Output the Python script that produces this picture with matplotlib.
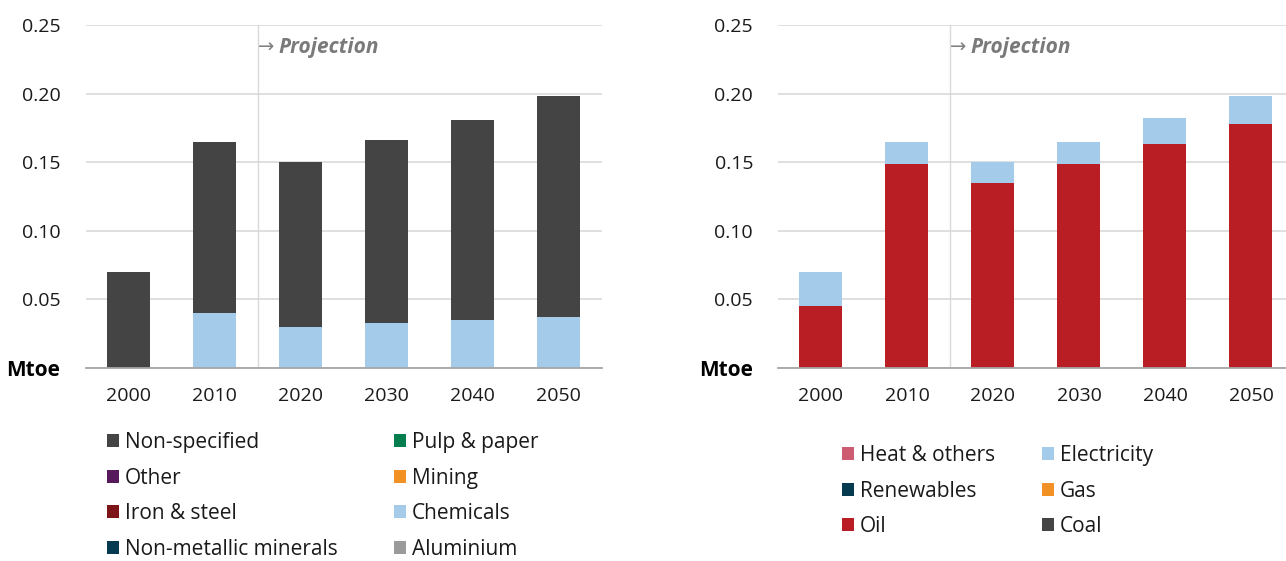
import numpy as np
import matplotlib
matplotlib.use("Agg")
import matplotlib.pyplot as plt
from matplotlib.patches import Patch

plt.rcParams['font.family'] = ['Open Sans', 'DejaVu Sans']

years = ['2000', '2010', '2020', '2030', '2040', '2050']
y_ticks = [0, 0.05, 0.10, 0.15, 0.20, 0.25]
y_labels = ['Mtoe', '0.05', '0.10', '0.15', '0.20', '0.25']

# Left chart: by industry sector (Mtoe)
sector_names = ['Chemicals', 'Non-specified', 'Pulp & paper', 'Other', 'Mining',
                'Iron & steel', 'Non-metallic minerals', 'Aluminium']
chemicals = [0.0, 0.040, 0.030, 0.033, 0.035, 0.037]
non_specified = [0.070, 0.125, 0.120, 0.133, 0.146, 0.161]
pulp_paper = [0, 0, 0, 0, 0, 0]
other = [0, 0, 0, 0, 0, 0]
mining = [0, 0, 0, 0, 0, 0]
iron_steel = [0, 0, 0, 0, 0, 0]
non_metallic = [0, 0, 0, 0, 0, 0]
aluminium = [0, 0, 0, 0, 0, 0]

# Right chart: by fuel (Mtoe)
fuel_names = ['Oil', 'Electricity', 'Heat & others', 'Renewables', 'Gas', 'Coal']
oil = [0.045, 0.149, 0.135, 0.149, 0.163, 0.178]
electricity = [0.025, 0.016, 0.015, 0.016, 0.019, 0.020]
heat_others = [0, 0, 0, 0, 0, 0]
renewables = [0, 0, 0, 0, 0, 0]
gas = [0, 0, 0, 0, 0, 0]
coal = [0, 0, 0, 0, 0, 0]

colors = {
    'Non-specified': '#444444', 'Pulp & paper': '#047d4f', 'Other': '#561a5c',
    'Mining': '#f39224', 'Iron & steel': '#7d1518', 'Chemicals': '#a5cbea',
    'Non-metallic minerals': '#053a51', 'Aluminium': '#9a9a9a',
    'Heat & others': '#cd5c73', 'Electricity': '#a5cbea', 'Renewables': '#053a51',
    'Gas': '#f39224', 'Oil': '#b81e24', 'Coal': '#444444',
}

FS = 14
LEG_FS = 15
GRID = '#d9d9d9'
TXT = '#1a1a1a'

fig = plt.figure(figsize=(12.86, 5.61), dpi=100)
ax1 = fig.add_axes([85.5 / 1286, 1 - 368 / 561, 516 / 1286, 343 / 561])
ax2 = fig.add_axes([778 / 1286, 1 - 368 / 561, 508 / 1286, 343 / 561])


def draw_stack(ax, names, series):
    x = np.arange(len(years))
    bottom = np.zeros(len(years))
    for name, vals in zip(names, series):
        vals = np.array(vals, dtype=float)
        ax.bar(x, vals, width=0.5, bottom=bottom, color=colors[name],
               edgecolor='none', zorder=3)
        bottom += vals


def style(ax, xmax):
    ax.set_xlim(-0.5, xmax)
    ax.set_ylim(0, 0.25)
    ax.set_yticks(y_ticks)
    ax.set_yticklabels(y_labels, fontsize=FS, color=TXT)
    mtoe = ax.get_yticklabels()[0]
    mtoe.set_fontweight('bold')
    mtoe.set_color('black')
    mtoe.set_fontsize(15)
    ax.set_xticks(np.arange(len(years)))
    ax.set_xticklabels(years, fontsize=FS, color=TXT)
    ax.tick_params(axis='y', length=0, pad=18)
    ax.tick_params(axis='x', length=0, pad=14)
    for s in ['top', 'right', 'left']:
        ax.spines[s].set_visible(False)
    ax.spines['bottom'].set_color('#a6a6a6')
    ax.spines['bottom'].set_linewidth(1.3)
    ax.spines['bottom'].set_zorder(4)
    ax.yaxis.grid(True, color=GRID, linewidth=1.2, zorder=0)
    ax.set_axisbelow(True)
    ax.axvline(1.5, color=GRID, linewidth=1.0, zorder=1)
    ax.text(1.5, 0.2335, '→', fontsize=14, color='#808080', va='center', ha='left')
    ax.text(1.74, 0.2335, 'Projection', fontsize=15, color='#7a7a7a', va='center',
            ha='left', fontweight='bold', fontstyle='italic')


draw_stack(ax1, sector_names, [chemicals, non_specified, pulp_paper, other, mining,
                               iron_steel, non_metallic, aluminium])
draw_stack(ax2, fuel_names, [oil, electricity, heat_others, renewables, gas, coal])
style(ax1, 5.5)
style(ax2, 5.407)


def column_legend(names, x, y):
    handles = [Patch(facecolor=colors[n], edgecolor='none') for n in names]
    leg = fig.legend(handles, names, loc='upper left', bbox_to_anchor=(x / 1286, 1 - y / 561),
                     frameon=False, fontsize=LEG_FS, handlelength=0.56, handleheight=0.56,
                     handletextpad=0.3, labelspacing=0.7, borderpad=0, borderaxespad=0)
    for t in leg.get_texts():
        t.set_color(TXT)


column_legend(['Non-specified', 'Other', 'Iron & steel', 'Non-metallic minerals'], 107, 432)
column_legend(['Pulp & paper', 'Mining', 'Chemicals', 'Aluminium'], 394, 432)
column_legend(['Heat & others', 'Renewables', 'Oil'], 842, 445)
column_legend(['Electricity', 'Gas', 'Coal'], 1042, 445)

fig.savefig('out.png', dpi=100)
